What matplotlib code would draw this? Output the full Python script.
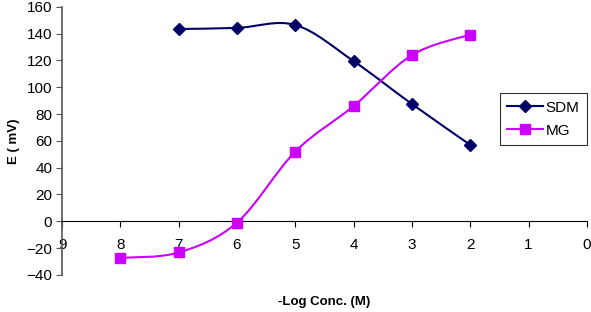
import numpy as np
import matplotlib
matplotlib.use("Agg")
import matplotlib.pyplot as plt
from matplotlib.path import Path
from matplotlib.patches import PathPatch

plt.rcParams["font.family"] = ["Liberation Sans", "DejaVu Sans"]

# DATA =================================================================================================================

SDM_X = [7, 6, 5, 4, 3, 2]
SDM_Y = [143.5, 144.3, 146.5, 119.5, 87.5, 57.0]
MG_X = [8, 7, 6, 5, 4, 3, 2]
MG_Y = [-27.3, -23.3, -1.0, 52.0, 86.0, 124.0, 139.3]

X_TICKS = list(range(0, 10))
Y_TICKS = list(range(-40, 161, 20))

SDM_COLOR = "#000066"
MG_COLOR = "#CC00FF"


# SMOOTHED LINE (Excel-like bezier) ====================================================================================

def smooth_path(xs, ys, tension=1.0 / 6.0):
    pts = np.column_stack([xs, ys]).astype(float)
    verts = [pts[0]]
    codes = [Path.MOVETO]
    n = len(pts)
    for i in range(n - 1):
        p0 = pts[i - 1] if i > 0 else pts[i]
        p1 = pts[i]
        p2 = pts[i + 1]
        p3 = pts[i + 2] if i + 2 < n else pts[i + 1]
        c1 = p1 + (p2 - p0) * tension
        c2 = p2 - (p3 - p1) * tension
        verts += [c1, c2, p2]
        codes += [Path.CURVE4] * 3
    return Path(verts, codes)


def draw_series(ax, xs, ys, color, marker, ms, label):
    ax.add_patch(PathPatch(smooth_path(xs, ys), facecolor="none", edgecolor=color, lw=1.5, zorder=3))
    ax.plot(xs, ys, linestyle="none", marker=marker, ms=ms, color=color, zorder=4)
    ax.plot([], [], color=color, lw=1.5, marker=marker, ms=ms, label=label)


# PLOT =================================================================================================================

fig = plt.figure(figsize=(5.91, 3.12), dpi=100)
ax = fig.add_axes([0.105, 0.119, 0.888, 0.859])

draw_series(ax, SDM_X, SDM_Y, SDM_COLOR, "D", 6.5, "SDM")
draw_series(ax, MG_X, MG_Y, MG_COLOR, "s", 6.5, "MG")

ax.set_xlim(9, 0)
ax.set_ylim(-40, 160)
ax.set_xticks(X_TICKS)
ax.set_yticks(Y_TICKS)

ax.spines["top"].set_visible(False)
ax.spines["right"].set_visible(False)
ax.spines["bottom"].set_position(("data", 0))
ax.spines["bottom"].set_color("black")
ax.spines["left"].set_color("#555555")
ax.spines["left"].set_linewidth(1.2)

ax.tick_params(axis="x", direction="out", length=4, pad=8, labelsize=11, color="black")
ax.tick_params(axis="y", direction="out", length=4, pad=3, labelsize=11, color="#555555")

ax.set_ylabel("E ( mV)", fontweight="bold", fontsize=9.5)
ax.yaxis.set_label_coords(-0.08, 0.5)
ax.set_xlabel("-Log Conc. (M)", fontweight="bold", fontsize=9.5)
ax.xaxis.set_label_coords(0.50, -0.08)

leg = ax.legend(loc="upper left", bbox_to_anchor=(0.834, 0.679), borderaxespad=0, fontsize=11,
                frameon=True, fancybox=False, handlelength=2.3, handletextpad=0.2, borderpad=0.5,
                labelspacing=0.6)
leg.get_frame().set_edgecolor("black")
leg.get_frame().set_linewidth(0.8)

fig.savefig("out.png", dpi=100)
